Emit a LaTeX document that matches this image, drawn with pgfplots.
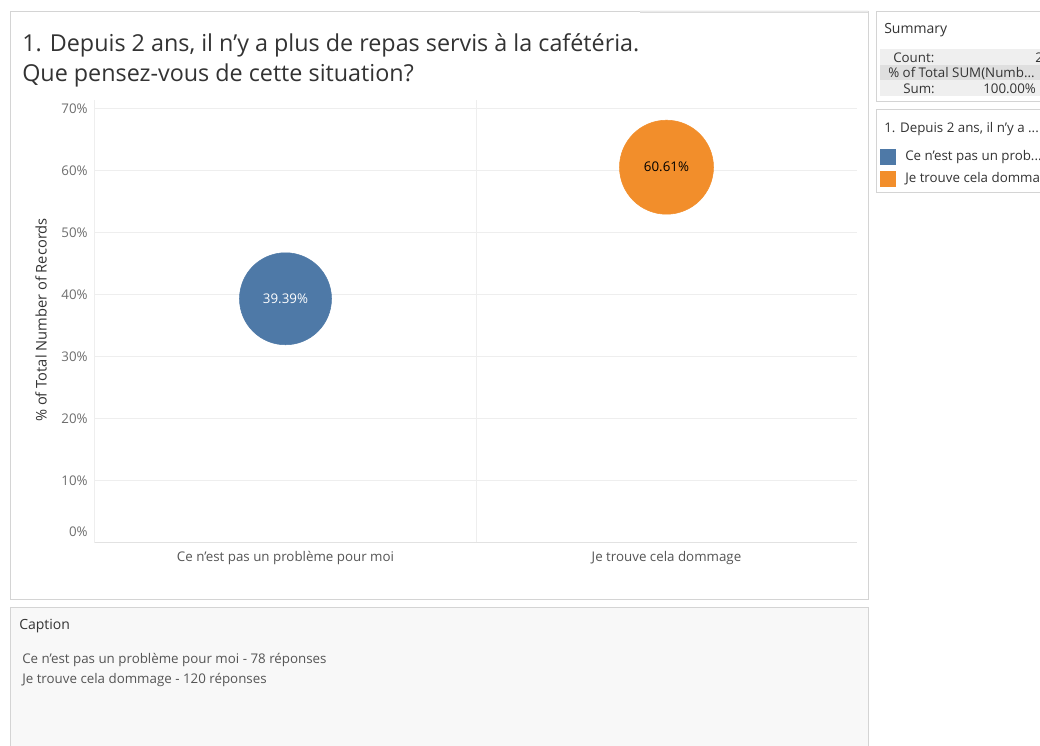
\documentclass[border=0pt]{standalone}
\usepackage{fontspec}
\setmainfont{Open Sans}
\usepackage{pgfplots}
\pgfplotsset{compat=1.18}
\definecolor{tabblue}{HTML}{4E79A7}
\definecolor{taborange}{HTML}{F28E2B}
\definecolor{gridgray}{HTML}{EEEEEE}
\definecolor{axisgray}{HTML}{E2E2E2}
\definecolor{tickgray}{HTML}{6E6E6E}
\definecolor{darktext}{HTML}{333333}
\definecolor{midtext}{HTML}{555555}
\definecolor{panelborder}{HTML}{D4D4D4}
\definecolor{capbg}{HTML}{F8F8F8}
\definecolor{bandlight}{HTML}{EFEFEF}
\definecolor{banddark}{HTML}{DFDFDF}
\newcommand{\fs}[1]{\fontsize{#1}{#1}\selectfont}
\begin{document}
\begin{tikzpicture}[x=0.75pt,y=0.75pt]
\clip (0,0) rectangle (1040,746);
\fill[white] (0,0) rectangle (1040,746);
% main panel
\draw[panelborder, fill=white, line width=0.75pt] (10.5,146.5) rectangle (868,734);
\shade[top color=white, bottom color=panelborder] (640,733.5) rectangle (868,736.5);
% caption panel
\draw[panelborder, fill=capbg, line width=0.75pt] (10.5,-2) rectangle (868,138);
\node[anchor=west, inner sep=0pt, text=darktext, font=\fs{10.5pt}] at (19,120) {Caption};
\node[anchor=west, inner sep=0pt, text=midtext, font=\fs{10pt}] at (22,86) {Ce n’est pas un problème pour moi - 78 réponses};
\node[anchor=west, inner sep=0pt, text=midtext, font=\fs{10pt}] at (22,66) {Je trouve cela dommage - 120 réponses};
% summary panel
\draw[panelborder, fill=white, line width=0.75pt] (876.5,644) rectangle (1050,734);
\node[anchor=west, inner sep=0pt, text=darktext, font=\fs{10.5pt}] at (884,716) {Summary};
\fill[bandlight] (880,681) rectangle (1050,697);
\fill[banddark] (880,666) rectangle (1050,681);
\fill[bandlight] (880,650) rectangle (1050,666);
\node[anchor=west, inner sep=0pt, text=darktext, font=\fs{10pt}] at (893,688) {Count:};
\node[anchor=west, inner sep=0pt, text=darktext, font=\fs{10pt}] at (1035,688) {2};
\node[anchor=west, inner sep=0pt, text=darktext, font=\fs{10pt}] at (888,673) {\% of Total SUM(Numb...};
\node[anchor=west, inner sep=0pt, text=darktext, font=\fs{10pt}] at (903,657.5) {Sum:};
\node[anchor=west, inner sep=0pt, text=darktext, font=\fs{10pt}] at (983,657.5) {100.00\%};
% legend panel
\draw[panelborder, fill=white, line width=0.75pt] (876.5,553) rectangle (1050,636);
\node[anchor=west, inner sep=0pt, text=darktext, font=\fs{10pt}] at (884,617) {1. Depuis 2 ans, il n'y a ...};
\fill[tabblue] (880,581) rectangle (896,597);
\fill[taborange] (880,559) rectangle (896,575);
\node[anchor=west, inner sep=0pt, text=darktext, font=\fs{10pt}] at (905,589) {Ce n’est pas un prob...};
\node[anchor=west, inner sep=0pt, text=darktext, font=\fs{10pt}] at (905,567) {Je trouve cela dommage};
% title
\node[anchor=west, inner sep=0pt, text=darktext, font=\fs{17.5pt}] at (22,701) {1. Depuis 2 ans, il n’y a plus de repas servis à la cafétéria.};
\node[anchor=west, inner sep=0pt, text=darktext, font=\fs{17.5pt}] at (22,671) {Que pensez-vous de cette situation?};
% y label
\node[rotate=90, inner sep=0pt, text=darktext, font=\fs{11pt}] at (41,426) {\% of Total Number of Records};
\begin{axis}[
  at={(71.25pt,152.25pt)}, anchor=south west,
  width=571.5pt, height=332.25pt, scale only axis,
  xmin=-0.5, xmax=1.5, ymin=0, ymax=71.45,
  axis line style={draw=none},
  xtick={0,1},
  xticklabels={Ce n’est pas un problème pour moi, Je trouve cela dommage},
  xticklabel style={font=\fs{10pt}, text=midtext, yshift=-3pt},
  ytick={10,20,30,40,50,60,70},
  yticklabel={\pgfmathprintnumber{\tick}\%},
  yticklabel style={font=\fs{10pt}, text=tickgray, xshift=-2pt},
  /pgf/number format/assume math mode=true,
  major tick length=0pt,
  ymajorgrids,
  major grid style={gridgray, line width=0.75pt},
  extra x ticks={-0.5,0.5},
  extra x tick labels={},
  extra x tick style={grid=major, major grid style={gridgray, line width=0.75pt}},
  extra y ticks={0},
  extra y tick labels={0\%},
  extra y tick style={yticklabel style={yshift=8.25pt}, major grid style={axisgray, line width=0.75pt}},
  clip=false,
]
\addplot[only marks, mark=*, mark size=34.5pt, color=tabblue,
  point meta=explicit symbolic, nodes near coords,
  every node near coord/.append style={anchor=center, text=white, font=\fs{10pt}}]
  coordinates {(0,39.39) [39.39\%]};
\addplot[only marks, mark=*, mark size=35.25pt, color=taborange,
  point meta=explicit symbolic, nodes near coords,
  every node near coord/.append style={anchor=center, text=black, font=\fs{10pt}}]
  coordinates {(1,60.61) [60.61\%]};
\end{axis}
\end{tikzpicture}
\end{document}
